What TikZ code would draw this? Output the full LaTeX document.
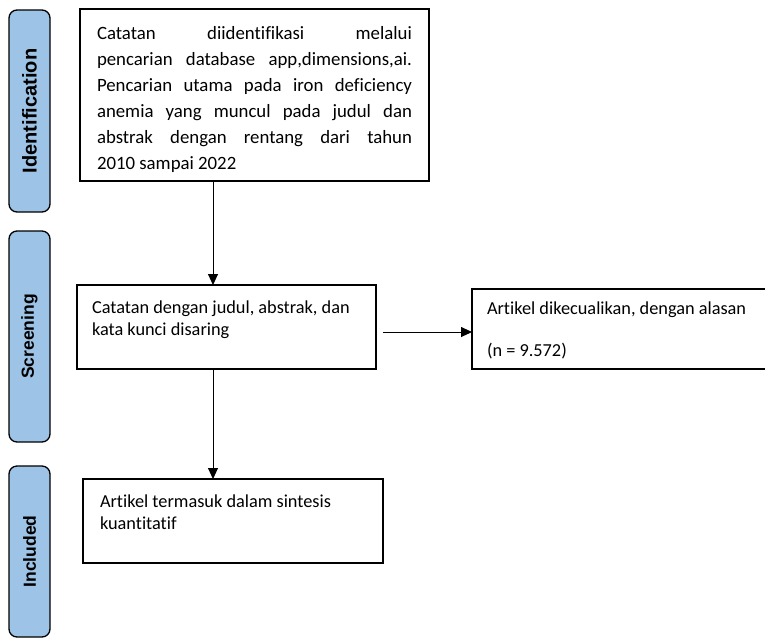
\documentclass[tikz,border=0pt]{standalone}
\usepackage{fontspec}
\setmainfont{Carlito}[Ligatures=NoCommon]
\newfontfamily\labelfont{Liberation Sans}
\usepackage{tikz}
\usetikzlibrary{arrows.meta, positioning}
\definecolor{stageblue}{RGB}{157, 195, 230}
\newcommand{\boxlines}[4]{\parbox[c][#1][t]{#2}{\vspace*{#3}#4}}
\hbadness=10000

\begin{document}
\begin{tikzpicture}[
    x=1pt, y=-1pt,
    flowbox/.style={draw, line width=1.4pt, inner ysep=0pt, outer sep=0pt,
                    anchor=north west, font=\fontsize{18.3}{22}\selectfont},
    stagelbl/.style={draw, line width=1.3pt, rounded corners=8pt, fill=stageblue,
                     minimum width=41pt, inner sep=0pt, outer sep=0pt,
                     anchor=north west,
                     font=\labelfont\bfseries\fontsize{17.5}{20}\selectfont},
    arr/.style={-{Triangle[length=11pt, width=10pt]}, line width=0.9pt}
]
\useasboundingbox (0,0) rectangle (765,638);

% stage labels
\node[stagelbl, minimum height=202pt, font=\labelfont\bfseries\fontsize{20}{22}\selectfont]
    (identlbl) at (9,10) {\rotatebox{90}{Identification}};
\node[stagelbl, minimum height=211pt] (screenlbl) at (9,231) {\rotatebox{90}{Screening}};
\node[stagelbl, minimum height=171pt] (incllbl)   at (9,466) {\rotatebox{90}{Included}};

% boxes
\node[flowbox, inner xsep=17pt, font=\fontsize{18.8}{26.1}\selectfont] (records) at (80,9)
    {\boxlines{172pt}{315pt}{17pt}{Catatan diidentifikasi melalui\linebreak
     pencarian database app,dimensions,ai.\linebreak
     Pencarian utama pada iron deficiency\linebreak
     anemia yang muncul pada judul dan\linebreak
     abstrak dengan rentang dari tahun\linebreak
     2010 sampai 2022}};
\node[flowbox, inner xsep=15pt, below right=104pt and -3pt of records.south west] (screened)
    {\boxlines{84pt}{269pt}{16pt}{Catatan dengan judul, abstrak, dan\\kata kunci disaring}};
\node[flowbox, inner xsep=15pt, below right=4pt and 96pt of screened.north east] (excluded)
    {\boxlines{80pt}{264pt}{12.5pt}{Artikel dikecualikan, dengan alasan\\[20pt](n = 9.572)}};
\node[flowbox, inner xsep=17pt, below right=110pt and 6pt of screened.south west] (included)
    {\boxlines{84pt}{266pt}{16pt}{Artikel termasuk dalam sintesis\\kuantitatif}};

% Arrows
\coordinate (spine) at (213,0);
\coordinate (sidetrack) at (0,332);
\draw[arr] (records.south -| spine)  -- (screened.north -| spine);
\draw[arr] (screened.south -| spine) -- (included.north -| spine);
\draw[arr] ([xshift=7pt]screened.east |- sidetrack) -- (excluded.west |- sidetrack);

\end{tikzpicture}
\end{document}
